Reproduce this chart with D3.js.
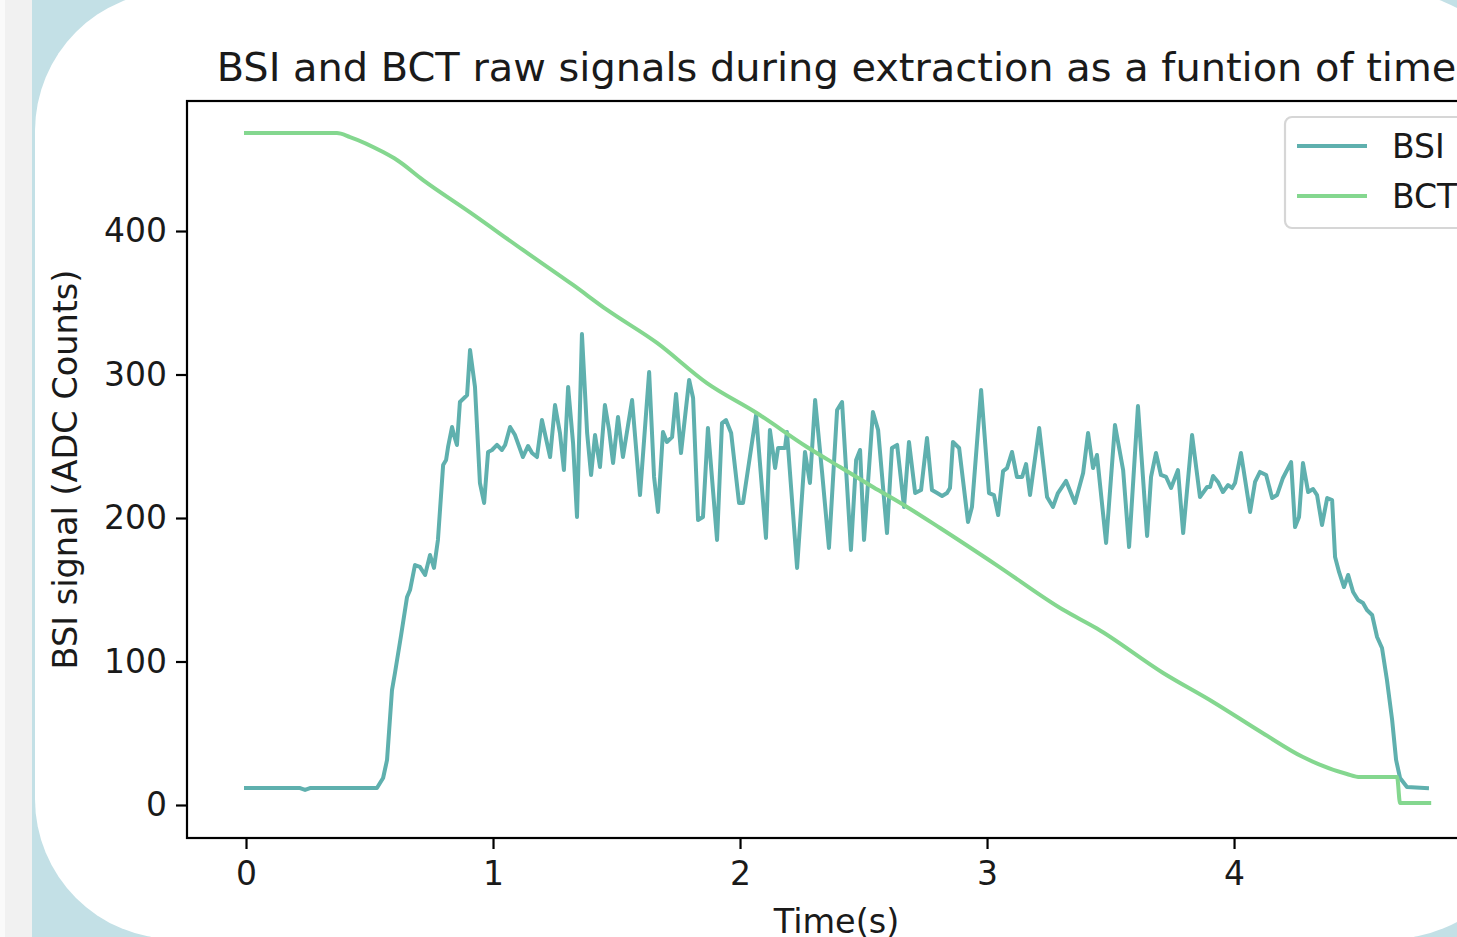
<!DOCTYPE html>
<html>
<head>
<meta charset="utf-8">
<script src="https://cdn.jsdelivr.net/npm/d3@7"></script>
<style>
  html, body { margin: 0; padding: 0; background: #fafafa; overflow: hidden; }
  svg { display: block; }
  text { font-family: "DejaVu Sans", sans-serif; fill: #1a1a1a; }
</style>
</head>
<body>
<svg id="chart" width="1457" height="937"></svg>
<script>
// ---------------- data ----------------
const chartTitle = "BSI and BCT raw signals during extraction as a funtion of time";
const xLabel = "Time(s)";
const yLabel = "BSI signal (ADC Counts)";
const seriesNames = ["BSI", "BCT"];
const xTicks = [0, 1, 2, 3, 4];
const yTicks = [0, 100, 200, 300, 400];

const bsiTime = [0.000,0.219,0.239,0.259,0.530,0.555,0.571,0.591,0.603,0.628,0.652,0.664,0.684,0.704,0.725,0.745,0.761,0.777,0.798,0.810,
0.818,0.834,0.842,0.854,0.866,0.887,0.895,0.907,0.927,0.947,0.964,0.980,0.996,1.016,1.036,1.049,1.069,1.089,1.121,1.142,
1.158,1.178,1.198,1.231,1.251,1.271,1.287,1.304,1.324,1.340,1.360,1.381,1.397,1.413,1.433,1.453,1.470,1.486,1.506,1.526,
1.563,1.595,1.632,1.652,1.668,1.688,1.704,1.725,1.741,1.761,1.794,1.810,1.830,1.850,1.870,1.907,1.927,1.943,1.964,1.996,
2.012,2.065,2.105,2.121,2.142,2.154,2.182,2.190,2.231,2.263,2.283,2.304,2.332,2.360,2.393,2.413,2.449,2.470,2.486,2.502,
2.538,2.559,2.595,2.615,2.636,2.664,2.684,2.709,2.733,2.757,2.777,2.798,2.818,2.838,2.850,2.862,2.887,2.923,2.939,2.976,
3.008,3.028,3.045,3.065,3.081,3.101,3.121,3.142,3.158,3.174,3.211,3.243,3.267,3.287,3.320,3.356,3.389,3.409,3.429,3.445,
3.482,3.518,3.551,3.575,3.611,3.648,3.664,3.684,3.704,3.725,3.745,3.773,3.794,3.830,3.862,3.891,3.903,3.915,3.935,3.955,
3.976,3.992,4.004,4.028,4.065,4.085,4.105,4.130,4.154,4.174,4.198,4.231,4.247,4.263,4.279,4.300,4.320,4.336,4.356,4.377,
4.397,4.409,4.425,4.445,4.462,4.482,4.502,4.522,4.538,4.559,4.579,4.599,4.619,4.640,4.656,4.672,4.700,4.781];

const bsiValues = [11.8,11.8,10.5,11.8,11.8,18.8,31.4,80.1,92.0,118.5,145.0,149.8,167.2,165.9,160.3,174.2,165.2,184.7,236.9,240.4,
249.5,263.4,257.8,250.9,280.8,284.3,285.7,317.1,291.3,224.4,210.5,246.0,247.4,250.9,247.4,250.9,263.4,257.8,242.5,250.2,
245.3,242.5,268.3,242.5,278.7,259.2,233.4,291.3,252.3,200.7,328.2,259.2,230.0,257.8,235.5,278.7,261.3,238.3,270.4,242.5,
282.2,216.0,301.7,228.6,204.2,259.9,253.0,256.4,286.4,245.3,296.2,283.6,198.6,200.7,262.7,184.7,266.2,268.3,259.2,210.5,
210.5,271.8,186.1,261.3,234.8,248.8,248.8,259.9,165.2,246.0,224.4,282.2,232.1,179.1,275.3,280.8,177.7,240.4,247.4,184.7,
273.9,261.3,189.5,248.8,250.9,207.7,253.0,217.4,219.5,255.7,219.5,217.4,215.3,217.4,220.9,253.0,248.8,197.2,207.7,289.2,
217.4,216.0,202.1,232.7,234.8,246.0,228.6,228.6,237.6,216.0,262.7,214.6,207.7,217.4,225.8,210.5,231.4,259.2,234.8,243.9,
182.6,264.8,233.4,179.8,278.0,187.5,228.6,245.3,230.0,228.6,220.9,233.4,189.5,257.8,214.6,221.6,221.6,229.3,225.1,218.1,
223.0,220.9,224.4,245.3,204.2,225.1,232.1,230.0,213.9,216.0,227.9,239.0,193.7,200.7,238.3,218.1,220.2,216.0,195.1,213.9,
212.5,172.8,162.4,151.9,160.3,148.4,142.9,140.8,135.9,132.4,117.1,109.4,87.1,59.2,31.4,18.8,12.5,11.8];

const bctTime = [0.000,0.368,0.421,0.555,0.611,0.717,0.907,1.121,1.324,1.462,1.664,1.866,2.069,2.271,2.405,2.538,2.676,2.810,3.040,3.308,
3.445,3.713,3.915,4.117,4.279,4.457,4.510,4.660,4.672,4.790];
const bctValues = [468.3,468.3,465.5,455.0,449.5,435.5,413.0,386.8,362.4,345.0,322.0,294.0,273.0,249.5,235.5,221.6,207.7,193.0,167.0,136.0,
123.0,92.0,71.8,50.0,33.4,21.6,19.5,19.5,1.4,1.4];

// ---------------- layout ----------------
const W = 1457, H = 937;
const svg = d3.select("#chart");

// page background: gray strip, blue area, white rounded card
svg.append("rect").attr("x", 5).attr("y", 0).attr("width", 28).attr("height", H).attr("fill", "#f1f1f1");
svg.append("rect").attr("x", 32).attr("y", 0).attr("width", W - 32).attr("height", H).attr("fill", "#c3e0e6");
svg.append("rect").attr("x", 35).attr("y", -9).attr("width", 1495).attr("height", 948)
  .attr("rx", 140).attr("ry", 140).attr("fill", "#ffffff");

const plot = { left: 187, top: 101, right: 1486, bottom: 838 };

const x = d3.scaleLinear().domain([-0.2389, 5.020]).range([plot.left, plot.right]);
const y = d3.scaleLinear().domain([-23.0, 490.6]).range([plot.bottom, plot.top]);

const fontTick = 33, fontLabel = 33.5, fontTitle = 39.9;
const axisStroke = 2.2;

// lines
const line = d3.line().x(d => x(d[0])).y(d => y(d[1]));
const bsi = d3.zip(bsiTime, bsiValues);
const bct = d3.zip(bctTime, bctValues);
const colors = { BSI: "#5fb0ae", BCT: "#84d78f" };

svg.append("path").datum(bsi).attr("d", line).attr("fill", "none")
  .attr("stroke", colors.BSI).attr("stroke-width", 4).attr("stroke-linejoin", "round").attr("stroke-linecap", "square");
svg.append("path").datum(bct).attr("d", d3.line().x(d => x(d[0])).y(d => y(d[1])).curve(d3.curveMonotoneX)).attr("fill", "none")
  .attr("stroke", colors.BCT).attr("stroke-width", 4).attr("stroke-linejoin", "round").attr("stroke-linecap", "square");

// axes
const xAxis = svg.append("g").attr("transform", `translate(0,${plot.bottom})`)
  .call(d3.axisBottom(x).tickValues(xTicks).tickFormat(d3.format("d")).tickSize(11).tickPadding(13));
const yAxis = svg.append("g").attr("transform", `translate(${plot.left},0)`)
  .call(d3.axisLeft(y).tickValues(yTicks).tickFormat(d3.format("d")).tickSize(11).tickPadding(9));
[xAxis, yAxis].forEach(g => {
  g.select(".domain").remove();
  g.selectAll(".tick line").attr("stroke", "#000").attr("stroke-width", axisStroke);
  g.selectAll(".tick text").attr("font-size", fontTick).attr("font-family", "DejaVu Sans").attr("fill", "#1a1a1a");
});

// frame
svg.append("rect").attr("x", plot.left).attr("y", plot.top)
  .attr("width", plot.right - plot.left).attr("height", plot.bottom - plot.top)
  .attr("fill", "none").attr("stroke", "#000").attr("stroke-width", axisStroke);

// title
svg.append("text").attr("x", (plot.left + plot.right) / 2).attr("y", 81)
  .attr("text-anchor", "middle").attr("font-size", fontTitle).text(chartTitle);

// axis labels
svg.append("text").attr("x", (plot.left + plot.right) / 2).attr("y", 933)
  .attr("text-anchor", "middle").attr("font-size", fontLabel).text(xLabel);
svg.append("text").attr("transform", `translate(77,${(plot.top + plot.bottom) / 2}) rotate(-90)`)
  .attr("text-anchor", "middle").attr("font-size", fontLabel).text(yLabel);

// legend
const lg = svg.append("g").attr("transform", "translate(1285,117)");
lg.append("rect").attr("x", 0).attr("y", 0).attr("width", 200).attr("height", 111)
  .attr("rx", 7).attr("fill", "#ffffff").attr("fill-opacity", 0.8)
  .attr("stroke", "#d6d6d6").attr("stroke-width", 2.2);
seriesNames.forEach((name, i) => {
  const cy = 29 + i * 50;
  lg.append("line").attr("x1", 12).attr("x2", 82).attr("y1", cy).attr("y2", cy)
    .attr("stroke", colors[name]).attr("stroke-width", 4);
  lg.append("text").attr("x", 107).attr("y", cy + 12).attr("font-size", fontTick).text(name);
});
</script>
</body>
</html>
